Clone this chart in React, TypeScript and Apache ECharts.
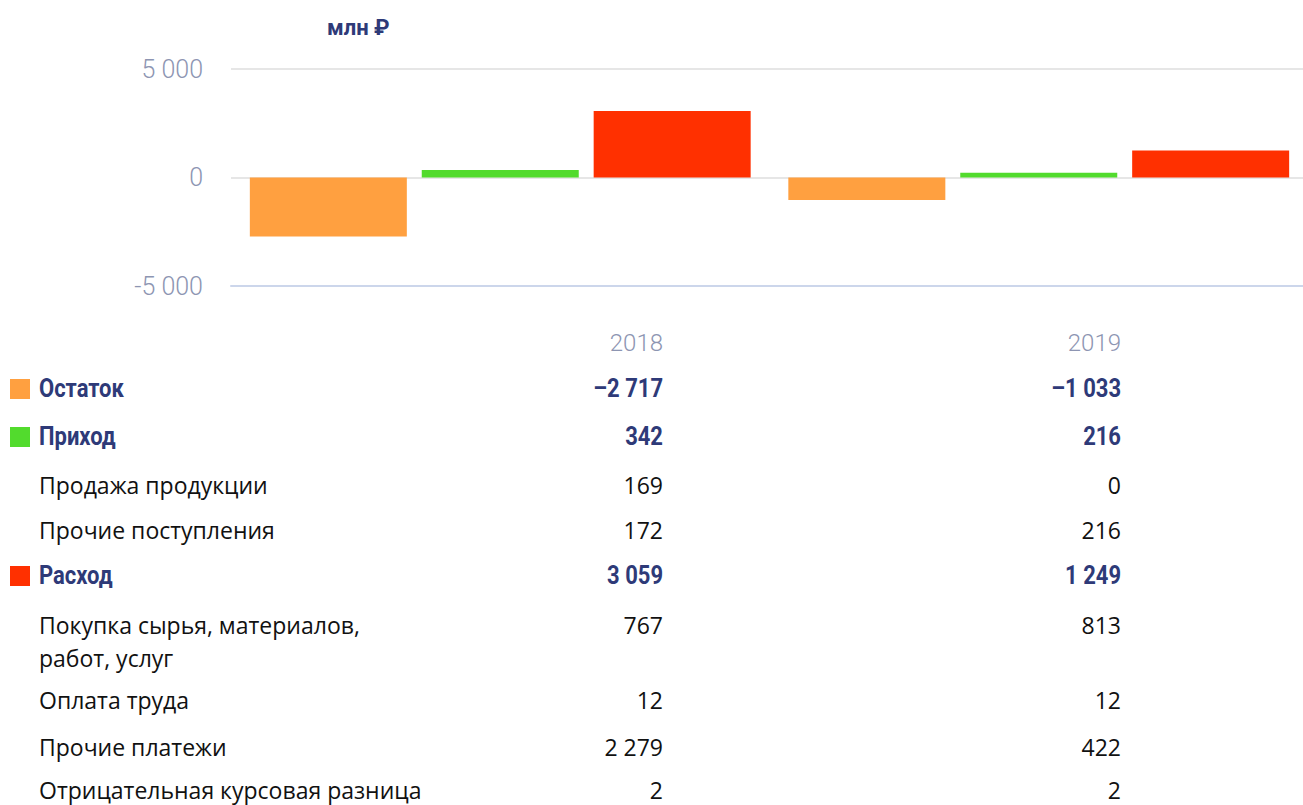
import React, { useEffect, useRef } from "react";
import * as echarts from "echarts";

const years = ["2018", "2019"];
const remainder = [-2717, -1033];
const income = [342, 216];
const incomeSales = [169, 0];
const incomeOther = [172, 216];
const expense = [3059, 1249];
const expenseMaterials = [767, 813];
const expenseLabor = [12, 12];
const expenseOther = [2279, 422];
const expenseFx = [2, 2];
const yTicks = [-5000, 0, 5000];
const unitLabel = "млн ₽";

const ORANGE = "#FFA040";
const GREEN = "#52DB2D";
const RED = "#FF3000";
const NAVY = "#2E3A78";
const GREY = "#8D95B2";

const tableRows = [
  { label: "Остаток", values: remainder, total: true, color: ORANGE },
  { label: "Приход", values: income, total: true, color: GREEN },
  { label: "Продажа продукции", values: incomeSales, total: false },
  { label: "Прочие поступления", values: incomeOther, total: false },
  { label: "Расход", values: expense, total: true, color: RED },
  { label: "Покупка сырья, материалов,\nработ, услуг", values: expenseMaterials, total: false },
  { label: "Оплата труда", values: expenseLabor, total: false },
  { label: "Прочие платежи", values: expenseOther, total: false },
  { label: "Отрицательная курсовая разница", values: expenseFx, total: false },
];

function fmt(n: number, minus: string) {
  const s = String(Math.abs(n)).replace(/\B(?=(\d{3})+(?!\d))/g, " ");
  return (n < 0 ? minus : "") + s;
}

const BOLD_FONT = 'Roboto, "Noto Sans", sans-serif';
const REG_FONT = '"Open Sans", "Noto Sans", sans-serif';
const AXIS_FONT = 'Roboto, "Noto Sans", sans-serif';
const BOLD_SCALE = 0.88;

export default function App() {
  const ref = useRef<HTMLDivElement>(null);
  useEffect(() => {
    document.body.style.margin = "0";
    const chart = echarts.init(ref.current!, null, { renderer: "svg" });

    const rowY = [389, 437, 485, 530, 576, 625, 700, 747, 790];
    const colX = [663, 1121];
    const graphics: any[] = [];

    graphics.push({
      type: "text",
      x: 327,
      y: 27,
      style: {
        text: unitLabel,
        fill: NAVY,
        font: `bold 22px ${BOLD_FONT}`,
        align: "left",
        verticalAlign: "middle",
      },
    });

    years.forEach((yr, j) => {
      graphics.push({
        type: "text",
        x: colX[j],
        y: 343,
        style: {
          text: yr,
          fill: GREY,
          font: `300 24px ${AXIS_FONT}`,
          align: "right",
          verticalAlign: "middle",
        },
      });
    });

    tableRows.forEach((row, i) => {
      const y = rowY[i];
      const multi = row.label.includes("\n");
      if (row.total && row.color) {
        graphics.push({
          type: "rect",
          shape: { x: 10, y: y - 10, width: 20, height: 20 },
          style: { fill: row.color },
        });
      }
      graphics.push({
        type: "text",
        x: 39,
        y: multi ? y - 17 : y,
        scaleX: row.total ? BOLD_SCALE : 1,
        style: {
          text: row.label,
          fill: row.total ? NAVY : "#111111",
          font: row.total ? `bold 25px ${BOLD_FONT}` : `23px ${REG_FONT}`,
          align: "left",
          verticalAlign: multi ? "top" : "middle",
          lineHeight: 33,
        },
      });
      row.values.forEach((v, j) => {
        graphics.push({
          type: "text",
          x: colX[j],
          y,
          scaleX: row.total ? BOLD_SCALE : 1,
          style: {
            text: fmt(v, "–"),
            fill: row.total ? NAVY : "#111111",
            font: row.total ? `bold 25px ${BOLD_FONT}` : `23px ${REG_FONT}`,
            align: "right",
            verticalAlign: "middle",
          },
        });
      });
    });

    chart.setOption({
      animation: false,
      grid: { left: 231, top: 69, width: 1077, height: 217, containLabel: false, outerBoundsMode: "none" },
      xAxis: {
        type: "category",
        data: years,
        axisLabel: { show: false },
        axisTick: { show: false },
        axisLine: { show: true, onZero: false, lineStyle: { color: "#CCD6EB", width: 2 } },
        splitLine: { show: false },
      },
      yAxis: {
        type: "value",
        min: yTicks[0],
        max: yTicks[yTicks.length - 1],
        interval: yTicks[1] - yTicks[0],
        axisLine: { show: false },
        axisTick: { show: false },
        axisLabel: {
          margin: 28,
          color: GREY,
          fontFamily: AXIS_FONT,
          fontWeight: 300,
          fontSize: 25,
          formatter: (v: number) => fmt(v, "-"),
        },
        splitLine: { lineStyle: { color: "#E6E6E6", width: 2 } },
      },
      series: [
        { name: "Остаток", type: "bar", data: remainder, barWidth: 157, barGap: "9.5%", itemStyle: { color: ORANGE } },
        { name: "Приход", type: "bar", data: income, barWidth: 157, barGap: "9.5%", itemStyle: { color: GREEN } },
        { name: "Расход", type: "bar", data: expense, barWidth: 157, barGap: "9.5%", itemStyle: { color: RED } },
      ],
      graphic: graphics,
    });
    return () => chart.dispose();
  }, []);
  return (
    <div style={{ width: 1303, height: 805, overflow: "hidden", position: "relative" }}>
      <div ref={ref} style={{ width: 1312, height: 805 }} />
    </div>
  );
}
